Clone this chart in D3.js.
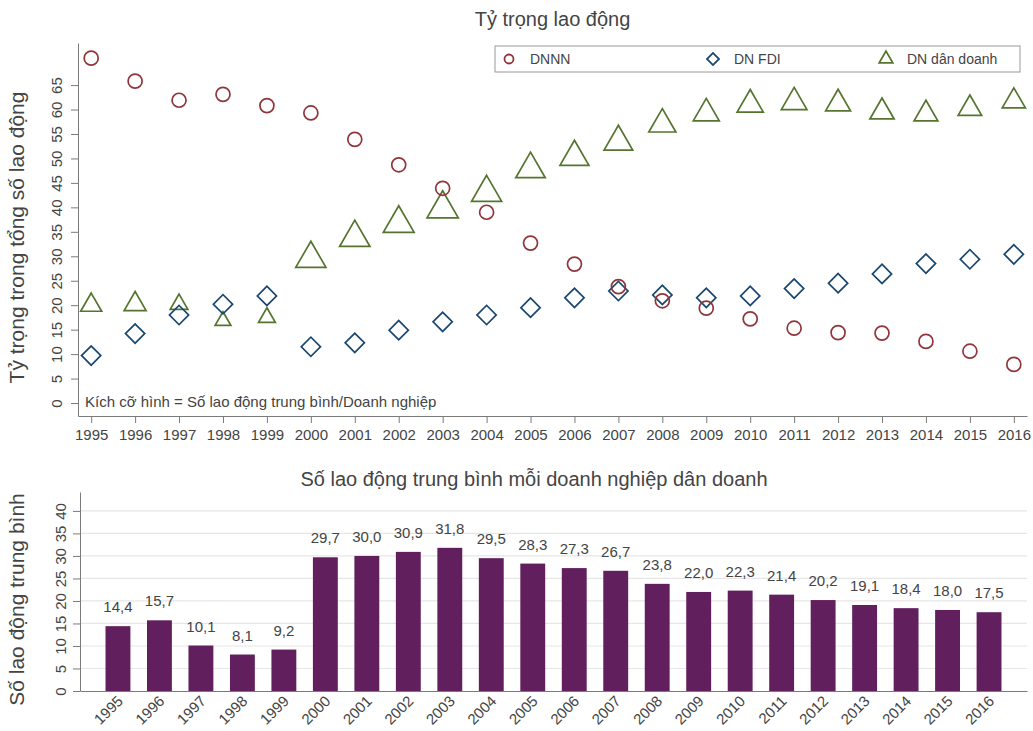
<!DOCTYPE html>
<html>
<head>
<meta charset="utf-8">
<script src="https://cdn.jsdelivr.net/npm/d3@7/dist/d3.min.js"></script>
<style>
  html, body { margin: 0; padding: 0; background: #fff; }
  svg { display: block; font-family: "Liberation Sans", Arial, Helvetica, sans-serif; }
</style>
</head>
<body>
<svg id="chart" width="1033" height="731"></svg>
<script>
// Years shared by both panels
const years = [1995, 1996, 1997, 1998, 1999, 2000, 2001, 2002, 2003, 2004, 2005,
               2006, 2007, 2008, 2009, 2010, 2011, 2012, 2013, 2014, 2015, 2016];

// Labour share (%) by ownership type
const shareSOE = [70.5, 65.8, 61.9, 63.1, 60.8, 59.3, 53.9, 48.7, 43.9, 39.0, 32.7,
                  28.4, 23.8, 20.9, 19.4, 17.2, 15.3, 14.4, 14.3, 12.6, 10.6, 7.9];
const shareFDI = [9.7, 14.2, 18.0, 20.2, 21.9, 11.5, 12.3, 14.9, 16.6, 18.0, 19.5,
                  21.5, 22.9, 22.1, 21.5, 21.9, 23.4, 24.5, 26.4, 28.5, 29.4, 30.4];
const sharePrivate = [20.0, 20.2, 20.2, 16.8, 17.5, 29.5, 33.8, 36.7, 39.7, 43.0, 47.8,
                      50.3, 53.4, 57.0, 59.2, 61.0, 61.5, 61.2, 59.5, 59.1, 60.2, 61.7];

// Average workers per private firm
const avgWorkers = [14.4, 15.7, 10.1, 8.1, 9.2, 29.7, 30.0, 30.9, 31.8, 29.5, 28.3,
                    27.3, 26.7, 23.8, 22.0, 22.3, 21.4, 20.2, 19.1, 18.4, 18.0, 17.5];

const seriesNames = ["DNNN", "DN FDI", "DN dân doanh"];
const topTicks = d3.range(0, 70, 5);
const bottomTicks = d3.range(0, 45, 5);

const colSOE = "#90353b", colFDI = "#1a476f", colPriv = "#55752f", colBar = "#611f5e";
const textCol = "#444", axisCol = "#7a7a7a";

const vi = d3.formatLocale({decimal: ",", thousands: ".", grouping: [3], currency: ["", ""]});
const fmt1 = vi.format(".1f");

const svg = d3.select("#chart");

// ---------- Upper panel: labour shares ----------
const upper = {left: 78, right: 1027, top: 43, bottom: 416};
const x = d3.scaleLinear().domain([1994.7, 2016.3]).range([upper.left, upper.right]);
const y = d3.scaleLinear().domain([-2.65, 73.6]).range([upper.bottom, upper.top]);
// triangle height grows with sqrt of average firm size (area ∝ value)
const triH = d3.scaleSqrt().domain([0, 1]).range([0, 4.8]);

svg.append("text").attr("x", (upper.left + upper.right) / 2).attr("y", 26)
  .attr("text-anchor", "middle").attr("font-size", 20).attr("fill", textCol)
  .text("Tỷ trọng lao động");

svg.append("text")
  .attr("transform", `translate(24,${(upper.top + upper.bottom) / 2 + 8}) rotate(-90)`)
  .attr("text-anchor", "middle").attr("font-size", 21).attr("fill", textCol)
  .text("Tỷ trọng trong tổng số lao động");

const gy = svg.append("g").attr("transform", `translate(${upper.left},0)`)
  .call(d3.axisLeft(y).tickValues(topTicks).tickSize(7).tickPadding(4).tickSizeOuter(0));
gy.select(".domain").attr("stroke", axisCol);
gy.selectAll(".tick line").attr("stroke", axisCol);
gy.selectAll(".tick text").attr("font-size", 15).attr("fill", textCol)
  .attr("text-anchor", "middle").attr("dy", null)
  .attr("transform", "rotate(-90)").attr("x", 0).attr("y", -16);

const gx = svg.append("g").attr("transform", `translate(0,${upper.bottom})`)
  .call(d3.axisBottom(x).tickValues(years).tickFormat(d3.format("d")).tickSize(7).tickPadding(6).tickSizeOuter(0));
gx.select(".domain").attr("stroke", axisCol);
gx.selectAll(".tick line").attr("stroke", axisCol);
gx.selectAll(".tick text").attr("font-size", 15).attr("fill", textCol);

svg.append("text").attr("x", 85).attr("y", 407).attr("font-size", 15).attr("fill", textCol)
  .text("Kích cỡ hình = Số lao động trung bình/Doanh nghiệp");

const marks = svg.append("g").attr("fill", "none").attr("stroke-width", 1.7);

marks.selectAll("path.priv").data(years).join("path").attr("class", "priv")
  .attr("transform", (d, i) => `translate(${x(d)},${y(sharePrivate[i])})`)
  .attr("d", (d, i) => {
    const h = triH(avgWorkers[i]);
    return d3.symbol(d3.symbolTriangle, h * h / Math.sqrt(3))();
  })
  .attr("stroke", colPriv);

marks.selectAll("path.fdi").data(years).join("path").attr("class", "fdi")
  .attr("transform", (d, i) => `translate(${x(d)},${y(shareFDI[i])}) rotate(45)`)
  .attr("d", d3.symbol(d3.symbolSquare, 185)())
  .attr("stroke", colFDI);

marks.selectAll("circle.soe").data(years).join("circle").attr("class", "soe")
  .attr("cx", d => x(d)).attr("cy", (d, i) => y(shareSOE[i])).attr("r", 7)
  .attr("stroke", colSOE);

// Legend
const lg = svg.append("g");
lg.append("rect").attr("x", 495).attr("y", 46).attr("width", 525).attr("height", 26)
  .attr("fill", "#fff").attr("stroke", "#999").attr("stroke-width", 1);
const legendItems = [
  {name: seriesNames[0], x: 509, color: colSOE, shape: "circle"},
  {name: seriesNames[1], x: 713, color: colFDI, shape: "diamond"},
  {name: seriesNames[2], x: 886, color: colPriv, shape: "triangle"}
];
legendItems.forEach(it => {
  const g = lg.append("g").attr("transform", `translate(${it.x},59)`);
  if (it.shape === "circle") {
    g.append("circle").attr("r", 4.5).attr("fill", "none").attr("stroke", it.color).attr("stroke-width", 1.8);
  } else if (it.shape === "diamond") {
    g.append("path").attr("transform", "rotate(45)").attr("d", d3.symbol(d3.symbolSquare, 72)())
      .attr("fill", "none").attr("stroke", it.color).attr("stroke-width", 1.8);
  } else {
    g.append("path").attr("d", d3.symbol(d3.symbolTriangle, 80)())
      .attr("fill", "none").attr("stroke", it.color).attr("stroke-width", 1.8);
  }
  g.append("text").attr("x", 21).attr("y", 5).attr("font-size", 14).attr("fill", textCol).text(it.name);
});

// ---------- Lower panel: average firm size ----------
const lower = {left: 80, right: 1027, top: 492, bottom: 691};
const xb = d3.scaleBand().domain(years).range([lower.left, lower.right]).paddingInner(0.4).paddingOuter(0.615);
const yb = d3.scaleLinear().domain([0, 44.2]).range([lower.bottom, lower.top]);

svg.append("text").attr("x", 534).attr("y", 486)
  .attr("text-anchor", "middle").attr("font-size", 20).attr("fill", textCol)
  .text("Số lao động trung bình mỗi doanh nghiệp dân doanh");

svg.append("text")
  .attr("transform", `translate(24,${(lower.top + lower.bottom) / 2 + 8}) rotate(-90)`)
  .attr("text-anchor", "middle").attr("font-size", 21).attr("fill", textCol)
  .text("Số lao động trung bình");

svg.append("g").selectAll("line").data(bottomTicks.filter(t => t > 0)).join("line")
  .attr("x1", lower.left).attr("x2", lower.right)
  .attr("y1", d => yb(d)).attr("y2", d => yb(d))
  .attr("stroke", "#e6e6e6").attr("stroke-width", 1.2);

svg.append("g").selectAll("rect").data(years).join("rect")
  .attr("x", d => xb(d)).attr("width", xb.bandwidth())
  .attr("y", (d, i) => yb(avgWorkers[i])).attr("height", (d, i) => yb(0) - yb(avgWorkers[i]))
  .attr("fill", colBar);

svg.append("g").selectAll("text").data(years).join("text")
  .attr("x", d => xb(d) + xb.bandwidth() / 2)
  .attr("y", (d, i) => yb(avgWorkers[i]) - 14)
  .attr("text-anchor", "middle").attr("font-size", 15).attr("fill", textCol)
  .text((d, i) => fmt1(avgWorkers[i]));

const gyb = svg.append("g").attr("transform", `translate(${lower.left},0)`)
  .call(d3.axisLeft(yb).tickValues(bottomTicks).tickSize(7).tickSizeOuter(0));
gyb.select(".domain").attr("stroke", axisCol);
gyb.selectAll(".tick line").attr("stroke", axisCol);
gyb.selectAll(".tick text").attr("font-size", 15).attr("fill", textCol)
  .attr("text-anchor", "middle").attr("dy", null)
  .attr("transform", "rotate(-90)").attr("x", 0).attr("y", -14);

const gxb = svg.append("g").attr("transform", `translate(0,${lower.bottom})`)
  .call(d3.axisBottom(xb).tickSize(0).tickSizeOuter(0));
gxb.select(".domain").attr("stroke", axisCol);
gxb.selectAll(".tick text").attr("font-size", 15).attr("fill", textCol)
  .attr("text-anchor", "end").attr("dy", null)
  .attr("transform", "translate(6,11) rotate(-45)").attr("x", 0).attr("y", 0);
</script>
</body>
</html>
